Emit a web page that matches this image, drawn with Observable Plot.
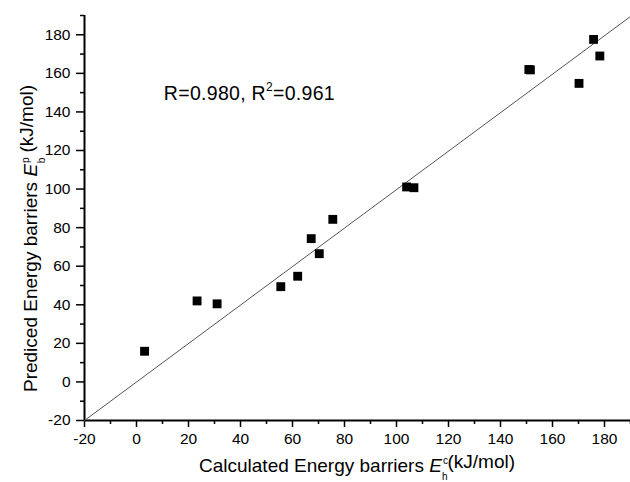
<!DOCTYPE html>
<html>
<head>
<meta charset="utf-8">
<script src="https://cdn.jsdelivr.net/npm/d3@7"></script>
<script src="https://cdn.jsdelivr.net/npm/@observablehq/plot@0.6"></script>
<style>
  html, body { margin: 0; padding: 0; background: #fff; }
  svg { font-family: 'Liberation Sans', Arial, sans-serif; }
</style>
</head>
<body>
<div id="chart"></div>
<script>
// Calculated energy barriers (x) and predicted energy barriers (y), kJ/mol
const calculated = [3.1, 23.3, 31.0, 55.5, 62.0, 67.2, 70.3, 75.5, 103.9, 106.7, 150.9, 151.5, 170.2, 175.8, 178.2];
const predicted  = [15.9, 42.0, 40.5, 49.4, 54.8, 74.3, 66.5, 84.3, 101.1, 100.7, 162.0, 161.8, 154.8, 177.6, 169.0];

// Fitted line endpoints
const fitX = [-20, 190];
const fitY = [-20, 189.5];

// Tick values
const majorTicks = [-20, 0, 20, 40, 60, 80, 100, 120, 140, 160, 180];
const minorTicks = [-10, 10, 30, 50, 70, 90, 110, 130, 150, 170, 190];

// Annotation
const annText = ["R=0.980, R", "2", "=0.961"];
const annX = 10.7;
const annY = 149.6;

const points = calculated.map((c, i) => ({x: c, y: predicted[i]}));
const fit = fitX.map((x, i) => ({x, y: fitY[i]}));
const FONT = "'Liberation Sans', Arial, sans-serif";

const chart = Plot.plot({
  width: 630,
  height: 482,
  marginLeft: 84,
  marginRight: 0,
  marginTop: 15,
  marginBottom: 62,
  style: {fontFamily: FONT, fontSize: "15px", color: "#000", background: "#fff"},
  x: {domain: [-20, 190], label: null},
  y: {domain: [-20, 190], label: null},
  marks: [
    Plot.axisX({ticks: minorTicks, tickSize: 4, tickFormat: () => "", strokeWidth: 1.5}),
    Plot.axisX({ticks: majorTicks, tickSize: 7, tickPadding: 5, strokeWidth: 1.5, fontSize: 15.5, tickFormat: d => String(d)}),
    Plot.axisY({ticks: minorTicks, tickSize: 4, tickFormat: () => "", strokeWidth: 1.5}),
    Plot.axisY({ticks: majorTicks, tickSize: 8, tickPadding: 6, strokeWidth: 1.5, fontSize: 15.5, tickFormat: d => String(d)}),
    Plot.ruleY([-20], {stroke: "#000", strokeWidth: 2}),
    Plot.ruleX([-20], {stroke: "#000", strokeWidth: 2}),
    Plot.line(fit, {x: "x", y: "y", stroke: "#555", strokeWidth: 1}),
    Plot.dot(points, {x: "x", y: "y", symbol: "square", r: 5, fill: "#000", stroke: "none"})
  ]
});

document.getElementById("chart").appendChild(chart);

const sx = chart.scale("x"), sy = chart.scale("y");
const svg = d3.select(chart);

// Annotation with superscript
const ann = svg.append("text")
  .attr("x", sx.apply(annX)).attr("y", sy.apply(annY))
  .attr("dy", "0.35em").attr("text-anchor", "start")
  .attr("font-family", FONT)
  .attr("font-size", 19.5).attr("letter-spacing", "0.3px").attr("fill", "#000");
ann.append("tspan").text(annText[0]);
ann.append("tspan").attr("font-size", 12).attr("dy", "-0.75em").text(annText[1]);
ann.append("tspan").attr("dy", "0.47em").text(annText[2]);

// X axis label
const xl = svg.append("text")
  .attr("x", (sx.range[0] + sx.range[1]) / 2).attr("y", 472)
  .attr("text-anchor", "middle").attr("font-family", FONT)
  .attr("font-size", 19).attr("fill", "#000");
xl.append("tspan").text("Calculated Energy barriers ");
xl.append("tspan").attr("font-style", "italic").text("E");
xl.append("tspan").attr("font-size", 10).attr("dy", "-0.85em").attr("dx", "1").text("c");
xl.append("tspan").attr("font-size", 10).attr("dy", "1.6em").attr("dx", "-6").text("h");
xl.append("tspan").attr("dy", "-0.6em").text("(kJ/mol)");

// Y axis label
const yl = svg.append("text")
  .attr("transform", `translate(37,${(sy.range[0] + sy.range[1]) / 2 + 21}) rotate(-90)`)
  .attr("text-anchor", "middle").attr("font-family", FONT)
  .attr("font-size", 19).attr("fill", "#000");
yl.append("tspan").text("Prediced Energy barriers ");
yl.append("tspan").attr("font-style", "italic").text("E");
yl.append("tspan").attr("font-size", 10).attr("dy", "-0.85em").attr("dx", "1").text("p");
yl.append("tspan").attr("font-size", 10).attr("dy", "1.6em").attr("dx", "-6").text("b");
yl.append("tspan").attr("dy", "-0.6em").text(" (kJ/mol)");
</script>
</body>
</html>
